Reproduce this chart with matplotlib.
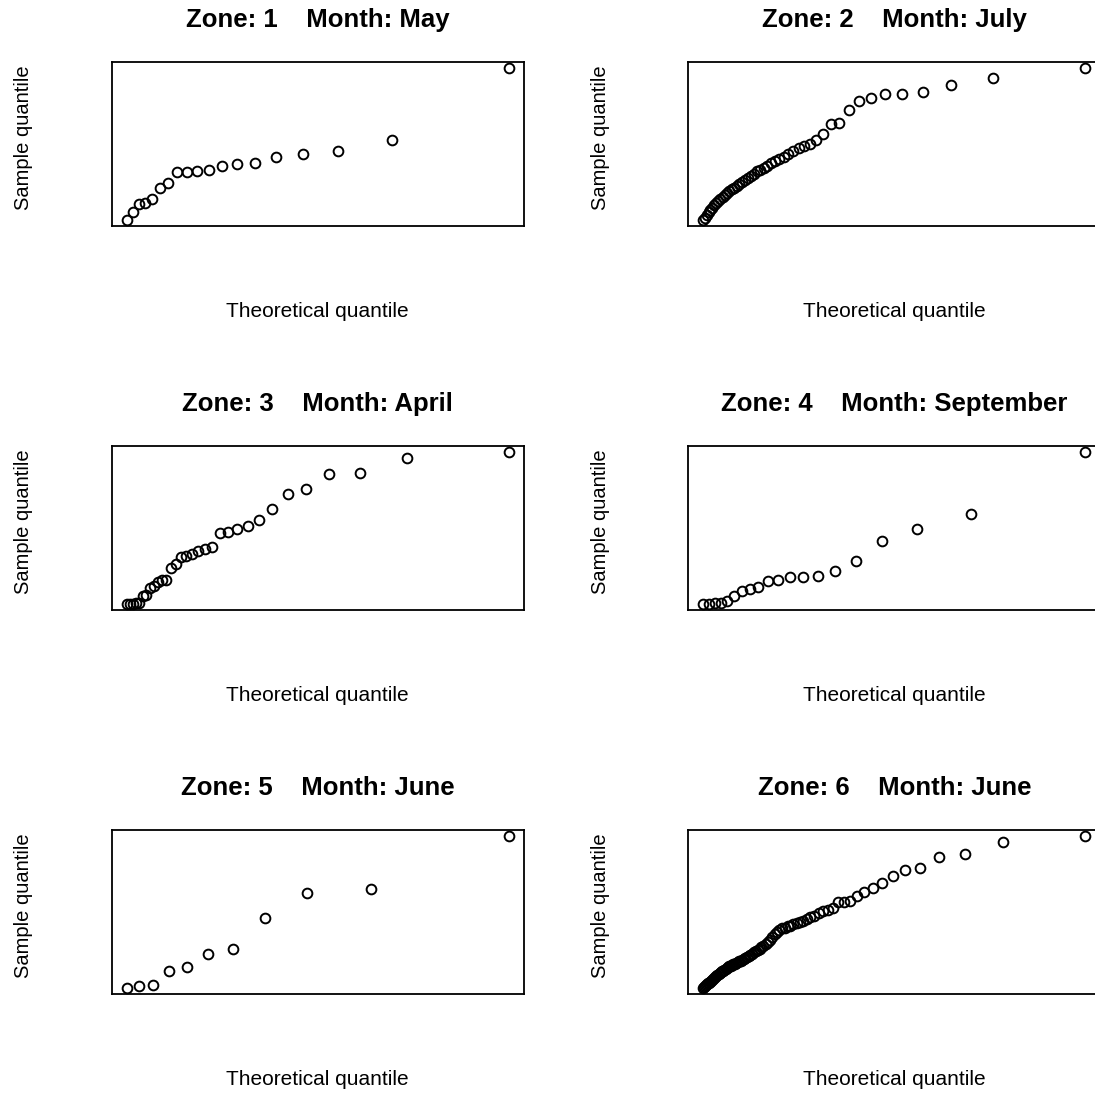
import matplotlib
matplotlib.use("Agg")
import matplotlib.pyplot as plt

plt.rcParams['font.family'] = ['Liberation Sans', 'DejaVu Sans']

zones = [1, 2, 3, 4, 5, 6]
months = ["May", "July", "April", "September", "June", "June"]

# theoretical (exponential) quantiles and sample quantiles
zone1_x = [0.027, 0.082, 0.141, 0.204, 0.270, 0.342, 0.419, 0.502, 0.593, 0.693,
           0.804, 0.930, 1.073, 1.240, 1.440, 1.692, 2.028, 2.539, 3.638]
zone1_y = [0, 5.5, 10.5, 10.9, 13.8, 21.2, 24.1, 31.5, 31.7, 32.0,
           32.8, 35.7, 37.0, 37.4, 41.6, 43.5, 45.3, 52.7, 100]

zone2_x = [0.010, 0.031, 0.052, 0.074, 0.096, 0.119, 0.142, 0.166, 0.191, 0.216,
           0.241, 0.268, 0.295, 0.322, 0.351, 0.380, 0.411, 0.442, 0.474, 0.507,
           0.542, 0.578, 0.615, 0.653, 0.693, 0.735, 0.778, 0.824, 0.871, 0.921,
           0.974, 1.030, 1.088, 1.151, 1.218, 1.289, 1.366, 1.450, 1.540, 1.641,
           1.752, 1.877, 2.020, 2.187, 2.388, 2.639, 2.976, 3.486, 4.585]
zone2_y = [0, 1.5, 3.0, 5.2, 6.5, 7.8, 9.6, 10.9, 12.4, 13.5,
           15.0, 16.3, 17.4, 18.7, 20.0, 21.1, 22.6, 23.9, 25.2, 26.5,
           27.8, 29.1, 30.4, 32.0, 33.0, 34.1, 35.4, 37.2, 38.5, 39.8,
           41.3, 43.5, 45.4, 47.2, 48.7, 50.0, 52.4, 56.3, 63.0, 63.9,
           72.2, 78.3, 80.4, 82.6, 82.8, 83.9, 88.9, 93.5, 100]

zone3_x = [0.016, 0.048, 0.081, 0.116, 0.152, 0.189, 0.227, 0.267, 0.309, 0.352,
           0.398, 0.445, 0.495, 0.548, 0.604, 0.662, 0.725, 0.792, 0.863, 0.940,
           1.023, 1.114, 1.214, 1.326, 1.451, 1.594, 1.761, 1.962, 2.213, 2.549,
           3.060, 4.159]
zone3_y = [0, 0, 0.2, 0.4, 0.9, 5.0, 5.7, 10.4, 12.0, 14.1,
           15.7, 15.9, 23.9, 26.1, 31.1, 31.3, 32.6, 34.8, 36.3, 37.4,
           46.3, 47.2, 49.3, 51.5, 55.4, 62.4, 72.2, 75.4, 85.2, 86.3,
           96.1, 100]

zone4_x = [0.025, 0.078, 0.134, 0.192, 0.255, 0.322, 0.393, 0.470, 0.553, 0.644,
           0.744, 0.856, 0.981, 1.124, 1.291, 1.492, 1.743, 2.079, 2.590, 3.689]
zone4_y = [0, 0.2, 0.4, 0.9, 1.7, 5.5, 8.3, 9.8, 11.1, 14.8,
           15.9, 17.5, 17.7, 18.3, 21.6, 27.9, 41.5, 49.1, 59.0, 100]

zone5_x = [0.047, 0.147, 0.258, 0.383, 0.526, 0.693, 0.894, 1.145, 1.482, 1.992, 3.091]
zone5_y = [0, 1.5, 2.0, 10.9, 13.5, 22.2, 25.5, 46.0, 62.1, 64.7, 100]

zone6_x = [0.006, 0.019, 0.031, 0.044, 0.056, 0.069, 0.083, 0.096, 0.109, 0.123,
           0.137, 0.151, 0.165, 0.180, 0.195, 0.210, 0.225, 0.240, 0.256, 0.272,
           0.288, 0.304, 0.321, 0.338, 0.355, 0.373, 0.390, 0.409, 0.427, 0.446,
           0.465, 0.485, 0.505, 0.525, 0.546, 0.567, 0.589, 0.611, 0.634, 0.657,
           0.681, 0.705, 0.730, 0.756, 0.782, 0.809, 0.837, 0.866, 0.895, 0.926,
           0.957, 0.989, 1.022, 1.057, 1.093, 1.130, 1.168, 1.208, 1.250, 1.293,
           1.339, 1.386, 1.436, 1.489, 1.545, 1.603, 1.666, 1.733, 1.804, 1.881,
           1.964, 2.055, 2.155, 2.267, 2.392, 2.535, 2.702, 2.903, 3.154, 3.490,
           4.001, 5.100]
zone6_y = [0, 0.9, 1.3, 2.0, 2.4, 3.1, 3.5, 4.1, 4.8, 5.2,
           5.9, 6.6, 7.2, 7.6, 8.3, 9.0, 9.6, 10.3, 10.9, 11.4,
           12.0, 12.7, 13.1, 13.8, 14.2, 14.6, 15.1, 15.5, 16.0, 16.6,
           17.0, 17.5, 17.9, 18.3, 19.0, 19.7, 20.1, 20.9, 21.6, 22.5,
           23.4, 24.0, 24.9, 25.8, 26.6, 27.7, 28.8, 29.9, 31.7, 33.4,
           35.4, 36.9, 38.0, 39.1, 39.7, 40.4, 41.0, 41.7, 42.4, 43.0,
           43.9, 45.0, 46.3, 47.6, 49.1, 50.4, 51.3, 52.6, 56.3, 56.8,
           57.2, 60.7, 62.9, 65.5, 68.8, 73.8, 77.5, 79.0, 85.8, 88.0,
           95.6, 100]

xs = [zone1_x, zone2_x, zone3_x, zone4_x, zone5_x, zone6_x]
ys = [zone1_y, zone2_y, zone3_y, zone4_y, zone5_y, zone6_y]

W = H = 1095
fig = plt.figure(figsize=(W / 100, H / 100), dpi=100)

# panel boxes in pixels (left, top); right column runs past the edge
lefts = [111.5, 688]
tops = [61.7, 445.7, 829.7]
pw, ph = 412.5, 164.3

for k in range(6):
    row, col = divmod(k, 2)
    ax = fig.add_axes([lefts[col] / W, 1 - (tops[row] + ph) / H, pw / W, ph / H])
    ax.plot(xs[k], ys[k], 'o', mfc='none', mec='black', ms=7, mew=1.4)
    ax.margins(0.04)
    ax.set_xticks([])
    ax.set_yticks([])
    for s in ax.spines.values():
        s.set_linewidth(1.3)
    ax.set_title("Zone: %d    Month: %s" % (zones[k], months[k]),
                 fontsize=18.5, fontweight='bold', pad=25)
    ax.set_xlabel("Theoretical quantile", fontsize=15)
    ax.xaxis.label.set_verticalalignment('baseline')
    ax.xaxis.set_label_coords(0.5, -0.554)
    ax.set_ylabel("Sample quantile", fontsize=14.5)
    ax.yaxis.set_label_coords(-0.19, 0.535)

fig.savefig("out.png", dpi=100)
